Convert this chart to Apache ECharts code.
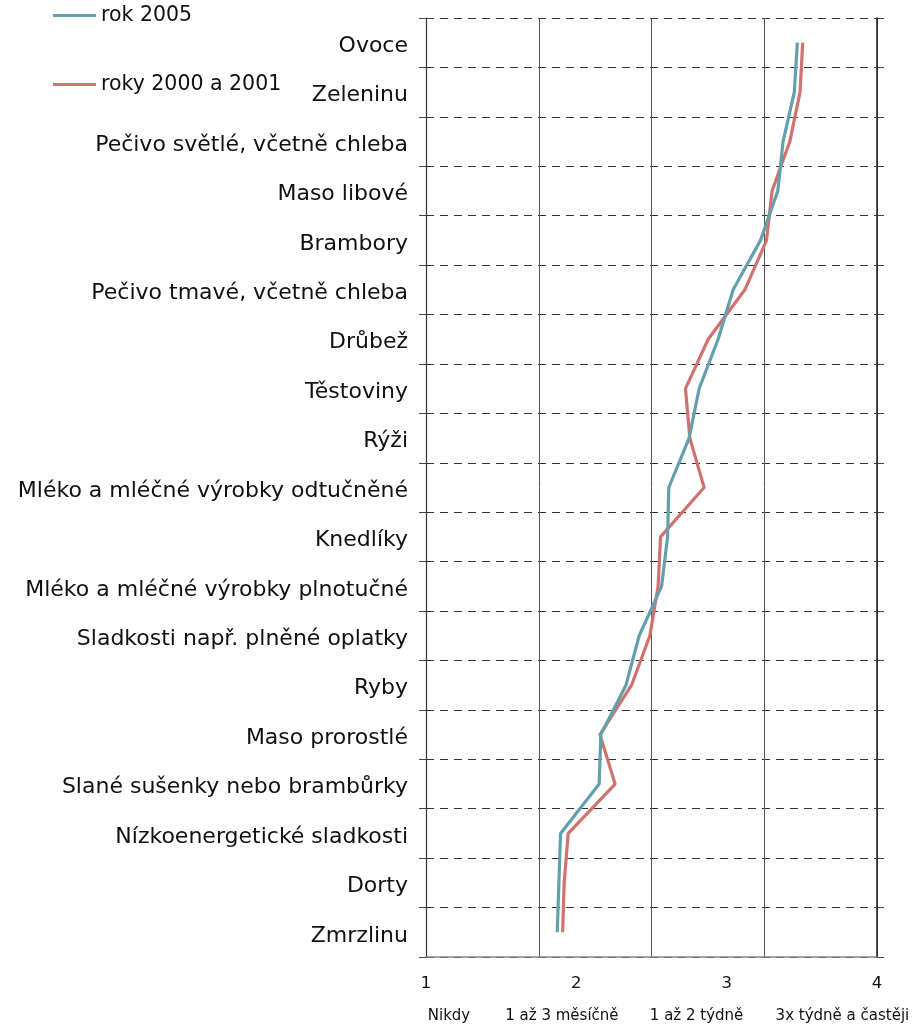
<!DOCTYPE html>
<html>
<head>
<meta charset="utf-8">
<script src="https://cdn.jsdelivr.net/npm/echarts@6/dist/echarts.min.js"></script>
<style>
html,body{margin:0;padding:0;background:#fff;}
#chart{width:914px;height:1025px;}
</style>
</head>
<body>
<div id="chart"></div>
<script>
// Food categories, top to bottom
const categories = [
  'Ovoce', 'Zeleninu', 'Pečivo světlé, včetně chleba', 'Maso libové', 'Brambory',
  'Pečivo tmavé, včetně chleba', 'Drůbež', 'Těstoviny', 'Rýži',
  'Mléko a mléčné výrobky odtučněné', 'Knedlíky', 'Mléko a mléčné výrobky plnotučné',
  'Sladkosti např. plněné oplatky', 'Ryby', 'Maso prorostlé',
  'Slané sušenky nebo brambůrky', 'Nízkoenergetické sladkosti', 'Dorty', 'Zmrzlinu'
];

// Mean consumption frequency score (1 = never ... 4 = 3x a week or more)
const values2005 = [
  3.47, 3.45, 3.375, 3.34, 3.225,
  3.043, 2.943, 2.817, 2.75,
  2.615, 2.607, 2.567,
  2.418, 2.33, 2.163,
  2.152, 1.895, 1.884, 1.873
];
const values2000_2001 = [
  3.506, 3.488, 3.42, 3.302, 3.265,
  3.121, 2.877, 2.726, 2.755,
  2.85, 2.56, 2.544,
  2.489, 2.367, 2.157,
  2.258, 1.946, 1.919, 1.909
];

const seriesNames = ['rok 2005', 'roky 2000 a 2001'];
const seriesColors = ['#64a0ac', '#d0726e'];

// Score tick labels and the frequency descriptions beneath them
const scoreTicks = [1, 2, 3, 4];
const frequencyLabels = ['Nikdy', '1 až 3 měsíčně', '1 až 2 týdně', '3x týdně a častěji'];
const frequencyLabelCenters = [1.153, 1.904, 2.8, 3.77];

const FONT = 'DejaVu Sans';

const chart = echarts.init(document.getElementById('chart'));

chart.setOption({
  animation: false,
  backgroundColor: '#fff',
  textStyle: { fontFamily: FONT },
  grid: { left: 426, right: 37, top: 18, bottom: 68, containLabel: false },
  legend: {
    orient: 'vertical',
    left: 48,
    top: 0,
    itemGap: 48,
    itemWidth: 43,
    itemHeight: 3,
    icon: 'rect',
    textStyle: { fontFamily: FONT, fontSize: 20.5, color: '#111' },
    data: seriesNames
  },
  xAxis: [
    {
      type: 'value', min: 1, max: 4, interval: 1,
      axisLine: { show: true, lineStyle: { color: '#888', width: 1.5 } },
      axisTick: { show: false },
      splitLine: { show: false },
      axisLabel: {
        fontFamily: FONT, fontSize: 16.5, color: '#111', margin: 18,
        formatter: v => scoreTicks.includes(v) ? String(v) : ''
      }
    },
    {
      type: 'value', min: 1, max: 4, interval: 0.75, position: 'bottom',
      axisLine: { show: false },
      axisTick: { show: false },
      axisLabel: { show: false },
      splitLine: { show: true, lineStyle: { color: '#555', width: 1 } }
    }
  ],
  yAxis: [
    {
      type: 'category', inverse: true, data: categories, position: 'left',
      boundaryGap: true,
      axisLine: { show: true, lineStyle: { color: '#333', width: 1.2 } },
      axisTick: { show: true, interval: 0, length: 7, lineStyle: { color: '#444' } },
      axisLabel: {
        interval: 0, margin: 18,
        formatter: v => '{c|' + v + '}',
        rich: {
          c: { fontFamily: FONT, fontSize: 22, color: '#111', padding: [7, 0, 0, 0] }
        }
      },
      splitLine: { show: true, interval: 0, lineStyle: { color: '#333', type: [8, 6], width: 1 } }
    },
    {
      type: 'category', inverse: true, data: categories, position: 'right',
      boundaryGap: true,
      axisLine: { show: true, lineStyle: { color: '#222', width: 1.5 } },
      axisTick: { show: true, interval: 0, length: 7, lineStyle: { color: '#444' } },
      axisLabel: { show: false },
      splitLine: { show: false }
    }
  ],
  series: [
    {
      name: seriesNames[0], type: 'line', xAxisIndex: 0, yAxisIndex: 0,
      data: values2005, symbol: 'none', z: 3,
      lineStyle: { color: seriesColors[0], width: 3.2 },
      itemStyle: { color: seriesColors[0] }
    },
    {
      name: seriesNames[1], type: 'line', xAxisIndex: 0, yAxisIndex: 0,
      data: values2000_2001, symbol: 'none', z: 2,
      lineStyle: { color: seriesColors[1], width: 3.2 },
      itemStyle: { color: seriesColors[1] }
    }
  ]
});

// Frequency descriptions under the score axis, placed through the axis scale
const plotBottom = 1025 - 68;
chart.setOption({
  graphic: frequencyLabels.map((t, i) => ({
    type: 'text',
    x: chart.convertToPixel({ xAxisIndex: 0 }, frequencyLabelCenters[i]),
    y: plotBottom + 59,
    style: {
      text: t, fontFamily: FONT, fontSize: 15, fill: '#111',
      textAlign: 'center', textVerticalAlign: 'middle'
    }
  }))
});
</script>
</body>
</html>
